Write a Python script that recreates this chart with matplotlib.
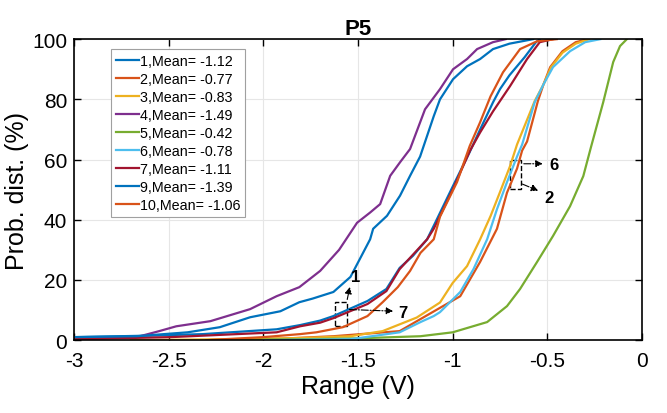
import numpy as np
import matplotlib.pyplot as plt
from matplotlib.patches import Rectangle

plt.rcParams['font.family'] = ['Liberation Sans', 'DejaVu Sans']

x1 = [-3.0, -2.6, -2.32, -1.93, -1.806, -1.70, -1.63, -1.45, -1.35, -1.28, -1.21, -1.135, -1.10, -1.0, -0.91, -0.855, -0.787, -0.75, -0.70, -0.62, -0.56, -0.54]
y1 = [1.0, 1.5, 2.0, 3.6, 5.0, 6.5, 8.0, 13.0, 17.0, 24.0, 28.0, 33.5, 38.0, 51.0, 62.5, 70.0, 79.0, 83.4, 88.0, 94.0, 99.0, 100.0]

x2 = [-2.23, -1.9, -1.63, -1.28, -1.17, -0.96, -0.855, -0.766, -0.713, -0.66, -0.633, -0.607, -0.55, -0.52, -0.485, -0.42, -0.35, -0.285]
y2 = [0.0, 0.5, 1.3, 3.0, 7.0, 14.6, 26.0, 37.0, 49.0, 57.0, 63.0, 66.0, 79.4, 85.0, 90.7, 96.0, 99.0, 100.0]

x3 = [-2.7, -2.2, -1.8, -1.54, -1.37, -1.19, -1.067, -1.0, -0.924, -0.855, -0.80, -0.75, -0.697, -0.66, -0.567, -0.52, -0.48, -0.42, -0.35, -0.28]
y3 = [0.0, 0.3, 0.7, 1.3, 3.0, 7.5, 12.5, 19.0, 24.6, 33.5, 41.2, 49.2, 57.8, 65.0, 79.4, 85.0, 90.7, 95.5, 98.5, 100.0]

x4 = [-3.0, -2.67, -2.55, -2.46, -2.28, -2.07, -1.93, -1.81, -1.70, -1.60, -1.505, -1.436, -1.383, -1.33, -1.278, -1.225, -1.146, -1.067, -0.998, -0.924, -0.871, -0.787, -0.72]
y4 = [0.4, 1.0, 3.0, 4.6, 6.3, 10.3, 14.6, 17.6, 23.0, 30.0, 39.0, 42.4, 45.2, 54.6, 59.1, 63.5, 76.7, 83.4, 90.0, 93.4, 96.7, 99.0, 100.0]

x5 = [-2.3, -1.8, -1.5, -1.17, -1.0, -0.818, -0.713, -0.644, -0.554, -0.47, -0.38, -0.31, -0.27, -0.205, -0.152, -0.116, -0.08]
y5 = [0.0, 0.3, 0.6, 1.3, 2.6, 6.0, 11.3, 17.0, 26.0, 34.6, 44.5, 54.5, 64.0, 79.0, 92.4, 97.7, 100.0]

x6 = [-2.0, -1.54, -1.28, -1.17, -1.10, -1.067, -0.96, -0.89, -0.818, -0.766, -0.713, -0.66, -0.633, -0.567, -0.52, -0.47, -0.38, -0.30, -0.22]
y6 = [0.0, 0.3, 2.6, 6.0, 8.0, 9.3, 16.0, 23.6, 33.5, 43.5, 52.5, 61.0, 65.0, 79.0, 85.0, 90.7, 96.0, 99.0, 100.0]

x7 = [-3.0, -2.49, -1.93, -1.806, -1.70, -1.63, -1.45, -1.35, -1.28, -1.135, -1.10, -1.0, -0.908, -0.855, -0.787, -0.697, -0.607, -0.54, -0.47]
y7 = [0.3, 1.0, 2.6, 4.6, 5.8, 7.3, 12.0, 16.3, 23.6, 33.5, 37.0, 50.0, 63.0, 69.0, 76.0, 84.4, 93.4, 99.0, 100.0]

x9 = [-3.0, -2.67, -2.40, -2.23, -2.07, -1.91, -1.81, -1.74, -1.63, -1.54, -1.49, -1.436, -1.42, -1.347, -1.278, -1.225, -1.172, -1.10, -1.067, -0.998, -0.924, -0.855, -0.787, -0.70, -0.575]
y9 = [1.0, 1.3, 2.6, 4.3, 7.6, 9.6, 12.6, 13.8, 16.0, 21.0, 27.0, 33.5, 37.0, 41.3, 48.0, 54.6, 61.0, 74.4, 80.0, 86.7, 91.0, 93.4, 96.7, 98.5, 100.0]

x10 = [-2.3, -2.0, -1.806, -1.72, -1.58, -1.45, -1.37, -1.29, -1.225, -1.17, -1.10, -1.067, -0.977, -0.91, -0.855, -0.80, -0.734, -0.644, -0.554, -0.45]
y10 = [0.0, 1.0, 2.0, 2.6, 4.3, 8.0, 12.6, 17.6, 23.0, 29.0, 33.5, 41.0, 52.5, 64.5, 72.4, 81.0, 89.0, 96.7, 99.3, 100.0]

labels = ['1,Mean= -1.12', '2,Mean= -0.77', '3,Mean= -0.83', '4,Mean= -1.49',
          '5,Mean= -0.42', '6,Mean= -0.78', '7,Mean= -1.11', '9,Mean= -1.39',
          '10,Mean= -1.06']
colors = ['#0072BD', '#D95319', '#EDB120', '#7E2F8E', '#77AC30',
          '#4DBEEE', '#A2142F', '#0072BD', '#D95319']
curves = [(x1, y1), (x2, y2), (x3, y3), (x4, y4), (x5, y5),
          (x6, y6), (x7, y7), (x9, y9), (x10, y10)]

fig = plt.figure(figsize=(6.67, 4.14), dpi=100)
ax = fig.add_axes([0.111, 0.176, 0.8515, 0.727])

for (xs, ys), c, lab in zip(curves, colors, labels):
    ax.plot(xs, ys, color=c, lw=1.6, label=lab)

ax.set_xlim(-3, 0)
ax.set_ylim(0, 100)
ax.set_xticks([-3, -2.5, -2, -1.5, -1, -0.5, 0])
ax.set_xticklabels(['-3', '-2.5', '-2', '-1.5', '-1', '-0.5', '0'])
ax.set_yticks([0, 20, 40, 60, 80, 100])
ax.grid(True, color='#e6e6e6', lw=0.8)
ax.set_axisbelow(True)
ax.tick_params(direction='in', top=True, right=True, labelsize=15, length=5, width=1)
ax.tick_params(axis='x', pad=8)
ax.tick_params(axis='y', pad=5)
for s in ax.spines.values():
    s.set_linewidth(1.2)

ax.set_xlabel('Range (V)', fontsize=18, labelpad=3)
ax.set_ylabel('Prob. dist. (%)', fontsize=18, labelpad=2)
ax.set_title('P5', fontsize=16, fontweight='bold', pad=4)

leg = ax.legend(loc='upper left', bbox_to_anchor=(0.065, 0.967), borderaxespad=0,
                fontsize=10.3, handlelength=1.6, handletextpad=0.05,
                labelspacing=0.28, borderpad=0.35, fancybox=False, framealpha=1)
leg.get_frame().set_edgecolor('#a0a0a0')
leg.get_frame().set_linewidth(0.8)

# annotations
ax.add_patch(Rectangle((-1.62, 4.6), 0.06, 8.0, fill=False, ls='--', lw=1, ec='k'))
ax.annotate('', xy=(-1.54, 18.6), xytext=(-1.56, 12.6),
            arrowprops=dict(arrowstyle='-|>', ls='-.', lw=0.8, color='k'))
ax.text(-1.535, 19.5, '1', fontsize=12, fontweight='bold')
ax.annotate('', xy=(-1.30, 9.6), xytext=(-1.56, 10.2),
            arrowprops=dict(arrowstyle='-|>', ls='-.', lw=0.8, color='k'))
ax.text(-1.285, 7.8, '7', fontsize=12, fontweight='bold')

ax.add_patch(Rectangle((-0.697, 50.2), 0.058, 9.6, fill=False, ls='--', lw=1, ec='k'))
ax.annotate('', xy=(-0.51, 58.6), xytext=(-0.639, 58.6),
            arrowprops=dict(arrowstyle='-|>', ls='-.', lw=0.8, color='k'))
ax.text(-0.49, 56.8, '6', fontsize=12, fontweight='bold')
ax.annotate('', xy=(-0.535, 49.3), xytext=(-0.645, 52.2),
            arrowprops=dict(arrowstyle='-|>', ls='-.', lw=0.8, color='k'))
ax.text(-0.515, 46.0, '2', fontsize=12, fontweight='bold')

fig.savefig('out.png', dpi=100)
